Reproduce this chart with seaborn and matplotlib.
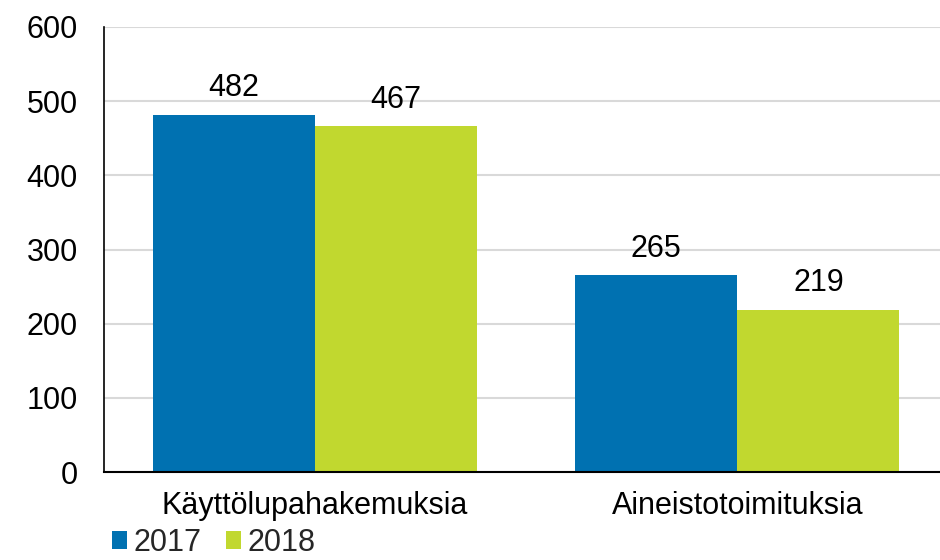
import matplotlib
matplotlib.use("Agg")
import matplotlib.pyplot as plt
import seaborn as sns
import pandas as pd

categories = ["Käyttölupahakemuksia", "Aineistotoimituksia"]
years = ["2017", "2018"]
values_2017 = [482, 265]
values_2018 = [467, 219]
yticks = [0, 100, 200, 300, 400, 500, 600]
colors = ["#0071B1", "#C1D82F"]

df = pd.DataFrame({
    "category": categories * 2,
    "year": [years[0]] * 2 + [years[1]] * 2,
    "value": values_2017 + values_2018,
})

sns.set_theme(style="white")
plt.rcParams["font.family"] = ["Liberation Sans", "DejaVu Sans"]

FS = 22

fig = plt.figure(figsize=(9.4, 5.6), dpi=100)
ax = fig.add_axes([104 / 940, 88 / 560, 836 / 940, 445 / 560])

sns.barplot(data=df, x="category", y="value", hue="year", palette=colors,
            width=0.768, gap=0, linewidth=0, saturation=1, ax=ax, legend=True)

for cont in ax.containers:
    ax.bar_label(cont, fmt="%d", padding=8, fontsize=FS, color="#000000")

ax.set_ylim(0, 600)
ax.set_xlim(-0.5, 1.48)
ax.set_yticks(yticks)
ax.set_yticklabels([str(t) for t in yticks], fontsize=FS, color="#000000")
ax.tick_params(axis="x", labelsize=FS, colors="#000000", length=0, pad=14)
ax.tick_params(axis="y", length=0, pad=19)
ax.set_xlabel("")
ax.set_ylabel("")
ax.yaxis.grid(True, color="#D9D9D9", linewidth=1.5)
ax.set_axisbelow(True)
for s in ["top", "right"]:
    ax.spines[s].set_visible(False)
ax.spines["left"].set_color("#000000")
ax.spines["left"].set_linewidth(1.2)
ax.spines["bottom"].set_color("#000000")
ax.spines["bottom"].set_linewidth(1.5)

leg = ax.legend(loc="lower left", bbox_to_anchor=(0.0096, -0.193), ncol=2, frameon=False,
                fontsize=FS, handlelength=0.5, handleheight=0.5, handletextpad=0.2,
                columnspacing=0.8, borderaxespad=0, borderpad=0)

fig.savefig("out.png", dpi=100)
